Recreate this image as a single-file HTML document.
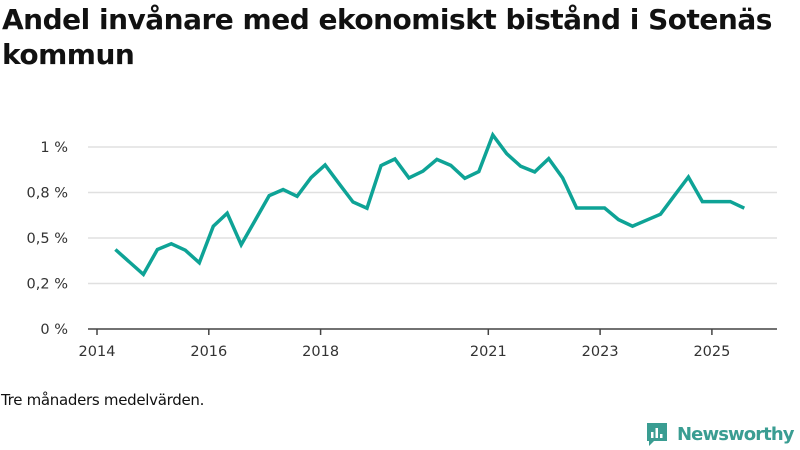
<!DOCTYPE html>
<html><head><meta charset="utf-8"><style>
body{margin:0;width:800px;height:450px;background:#fff;font-family:"Liberation Sans","DejaVu Sans",sans-serif;overflow:hidden;position:relative}
h1{position:absolute;left:2px;top:2px;margin:0;font-size:28px;line-height:35px;font-weight:bold;color:#111;font-family:"DejaVu Sans","Liberation Sans",sans-serif;letter-spacing:-0.5px}
.note{position:absolute;left:1px;top:391px;font-size:15px;color:#111;font-family:"DejaVu Sans",sans-serif;letter-spacing:-0.3px}
.logo{position:absolute;left:645px;top:421px;display:flex;align-items:center;gap:8px;color:#3a9d92;font-size:18px;font-weight:bold;font-family:"DejaVu Sans",sans-serif;letter-spacing:-0.9px}
</style></head><body>
<h1>Andel invånare med ekonomiskt bistånd i Sotenäs<br>kommun</h1>
<svg id="chart" width="800" height="450" style="position:absolute;left:0;top:0"></svg>
<div class="note">Tre månaders medelvärden.</div>
<div class="logo"><svg width="24" height="26" viewBox="0 0 24 26"><path d="M2 2h20v18H9l-5 5v-5H2z" fill="#3a9d92"/><rect x="6" y="11" width="2.5" height="6" fill="#fff"/><rect x="10.5" y="7" width="2.5" height="10" fill="#fff"/><rect x="15" y="13" width="2.5" height="4" fill="#fff"/></svg><span>Newsworthy</span></div>
<script>
const startYear = 2014.33;
const values = [0.437,0.368,0.300,0.437,0.468,0.433,0.364,0.565,0.636,0.463,0.598,0.733,0.766,0.729,0.832,0.901,0.799,0.698,0.664,0.898,0.934,0.830,0.867,0.932,0.899,0.828,0.865,1.066,0.963,0.894,0.863,0.936,0.830,0.665,0.665,0.665,0.601,0.565,0.598,0.631,0.733,0.835,0.700,0.700,0.700,0.664];
const yTicks = [0,0.25,0.5,0.75,1];
const yTickLabels = ["0 %","0,2 %","0,5 %","0,8 %","1 %"];
const xTicks = [2014,2016,2018,2021,2023,2025];
const NS="http://www.w3.org/2000/svg";
const svg=document.getElementById('chart');
const x=t=>97+(t-2014)*55.9;
const y=v=>329-v*182;
function mk(tag,attrs){const e=document.createElementNS(NS,tag);for(const k in attrs)e.setAttribute(k,attrs[k]);svg.appendChild(e);return e;}
yTicks.forEach((v,i)=>{
  if(v>0){const g=mk('line',{x1:88,x2:777,y1:y(v),y2:y(v),stroke:'#e0e0e0','stroke-width':1.5});
  
  }
  const t=mk('text',{x:68,y:y(v)+5,'text-anchor':'end','font-size':14.5,fill:'#333','font-family':'DejaVu Sans, sans-serif'});
  t.textContent=yTickLabels[i];
  
  
});
const ax=mk('line',{x1:88,x2:777,y1:y(0),y2:y(0),stroke:'#444','stroke-width':1.5});


xTicks.forEach(t=>{
  const tk=mk('line',{x1:x(t),x2:x(t),y1:y(0),y2:y(0)+6,stroke:'#444','stroke-width':1.5});
  
  
  const l=mk('text',{x:x(t),y:y(0)+27,'text-anchor':'middle','font-size':14.5,fill:'#333','font-family':'DejaVu Sans, sans-serif'});
  l.textContent=t;
  
  
});
const d=values.map((v,i)=>(i?'L':'M')+x(startYear+i*0.25).toFixed(1)+','+y(v).toFixed(1)).join('');
const p=mk('path',{d:d,fill:'none',stroke:'#0ea396','stroke-width':3.5,'stroke-linejoin':'miter'});


</script>
</body></html>
